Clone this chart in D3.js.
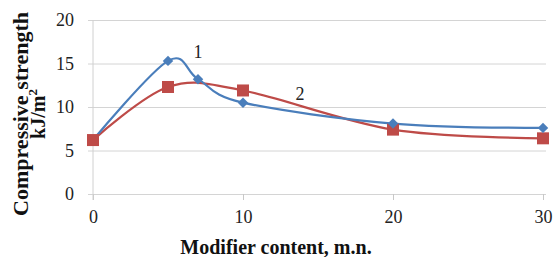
<!DOCTYPE html>
<html>
<head>
<meta charset="utf-8">
<script src="https://cdn.jsdelivr.net/npm/d3@7"></script>
<style>
  body { margin: 0; background: #fff; }
</style>
</head>
<body>
<div id="container"></div>
<script>
// data
const content = [0, 5, 7, 10, 20, 30];
const series1 = [6.2, 15.3, 13.2, 10.5, 8.1, 7.6];
const content2 = [0, 5, 10, 20, 30];
const series2 = [6.2, 12.3, 11.9, 7.4, 6.4];
const xTicks = [0, 10, 20, 30];
const yTicks = [0, 5, 10, 15, 20];

const W = 555, H = 257;
const margin = { top: 20, right: 12, bottom: 63, left: 93 };
const width = W - margin.left - margin.right,
  height = H - margin.top - margin.bottom;
const serif = '"Liberation Serif", "Times New Roman", serif';

const svg = d3.select('#container').append('svg')
  .attr('width', W)
  .attr('height', H)
  .attr('font-family', serif);

const c = svg.append('g')
  .attr('transform', `translate(${margin.left},${margin.top})`);

const xScale = d3.scaleLinear().domain([0, 30]).range([0, width]);
const yScale = d3.scaleLinear().domain([0, 20]).range([height, 0]);

// gridlines + y labels
const yAxis = c.append('g')
  .attr('transform', 'translate(-5,0)')
  .call(d3.axisLeft(yScale).tickValues(yTicks).tickSize(-(width + 8)).tickPadding(14));
yAxis.attr('font-family', serif);
yAxis.select('.domain').remove();
yAxis.selectAll('line').attr('stroke', '#d4d4d4');
yAxis.selectAll('text').attr('font-size', 18).attr('fill', '#222');

// x axis
const xAxis = c.append('g')
  .attr('transform', `translate(0,${height})`)
  .call(d3.axisBottom(xScale).tickValues(xTicks).tickSize(6).tickPadding(10));
xAxis.attr('font-family', serif);
xAxis.select('.domain').remove();
xAxis.selectAll('line').attr('stroke', '#c8c8c8');
xAxis.selectAll('text').attr('font-size', 18).attr('fill', '#222');

// vertical axis line
c.append('line')
  .attr('x1', xScale(0)).attr('x2', xScale(0))
  .attr('y1', yScale(20)).attr('y2', height + 6)
  .attr('stroke', '#d0d0d0');

const line = d3.line()
  .x(d => xScale(d[0]))
  .y(d => yScale(d[1]))
  .curve(d3.curveCardinal.tension(0));

const pts1 = content.map((x, i) => [x, series1[i]]);
const pts2 = content2.map((x, i) => [x, series2[i]]);

const blue = '#4a7ebb', red = '#be4b48';

c.append('path').datum(pts2)
  .attr('d', line).attr('fill', 'none')
  .attr('stroke', red).attr('stroke-width', 2.2);
c.append('path').datum(pts1)
  .attr('d', line).attr('fill', 'none')
  .attr('stroke', blue).attr('stroke-width', 2.2);

c.selectAll('.sq').data(pts2).enter().append('rect')
  .attr('class', 'sq')
  .attr('x', d => xScale(d[0]) - 6)
  .attr('y', d => yScale(d[1]) - 6)
  .attr('width', 12).attr('height', 12)
  .attr('fill', red);

// diamonds: squares turned 45 degrees
c.selectAll('.dia').data(pts1.slice(1)).enter().append('rect')
  .attr('class', 'dia')
  .attr('x', -3.7).attr('y', -3.7)
  .attr('width', 7.4).attr('height', 7.4)
  .attr('transform', d => `translate(${xScale(d[0])},${yScale(d[1])}) rotate(45)`)
  .attr('fill', blue);

// curve labels
c.append('text').attr('x', xScale(7)).attr('y', yScale(15.6))
  .attr('text-anchor', 'middle').attr('font-size', 18).attr('fill', '#222').text('1');
c.append('text').attr('x', xScale(13.8)).attr('y', yScale(10.8))
  .attr('text-anchor', 'middle').attr('font-size', 18).attr('fill', '#222').text('2');

// axis titles
svg.append('text')
  .attr('x', 276).attr('y', 254)
  .attr('text-anchor', 'middle')
  .attr('font-size', 20).attr('font-weight', 'bold').attr('fill', '#111')
  .text('Modifier content, m.n.');

const yt = svg.append('text')
  .attr('transform', 'translate(28,114) rotate(-90)')
  .attr('text-anchor', 'middle')
  .attr('font-weight', 'bold').attr('fill', '#111');
yt.append('tspan').attr('x', 0).attr('y', 0).attr('font-size', 22)
  .text('Compressive strength');
const t2 = yt.append('tspan').attr('x', 0).attr('y', 17).attr('font-size', 20);
t2.append('tspan').text('kJ/m');
t2.append('tspan').attr('font-size', 13).attr('dy', -8).text('2');
</script>
</body>
</html>
